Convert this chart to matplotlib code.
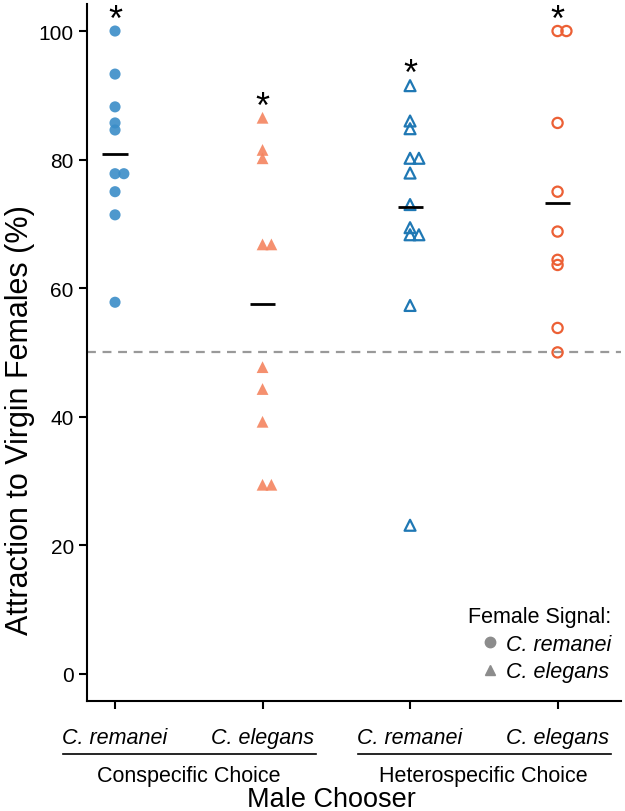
import matplotlib
matplotlib.use("Agg")
import matplotlib.pyplot as plt
import matplotlib.transforms as mtransforms
from matplotlib.lines import Line2D
from collections import Counter

plt.rcParams['font.family'] = ['Liberation Sans', 'DejaVu Sans']

# data
group_labels = ["C. remanei", "C. elegans", "C. remanei", "C. elegans"]
choice_labels = ["Conspecific Choice", "Heterospecific Choice"]
remanei_conspecific = [100, 93.3, 88.2, 85.7, 84.6, 77.8, 77.8, 75.0, 71.4, 57.8]
elegans_conspecific = [86.5, 81.5, 80.2, 66.8, 66.8, 47.7, 44.3, 39.2, 29.4, 29.4]
remanei_heterospecific = [91.5, 86.0, 84.8, 80.2, 80.2, 77.9, 73.0, 69.4, 68.3, 68.3, 57.3, 23.1]
elegans_heterospecific = [100, 100, 85.7, 75.0, 68.8, 64.4, 63.6, 53.8, 50.0]
group_means = [80.8, 57.6, 72.6, 73.3]
significant = [True, True, True, True]
chance_level = 50

groups = [remanei_conspecific, elegans_conspecific,
          remanei_heterospecific, elegans_heterospecific]

# styles
blue_fill = "#3b8dc8"
salmon_fill = "#f4845f"
blue_open = "#1f78b4"
salmon_open = "#ec6035"
styles = [
    dict(marker="o", facecolor=blue_fill, edgecolor="none", alpha=0.9, s=64),
    dict(marker="^", facecolor=salmon_fill, edgecolor="none", alpha=0.9, s=72),
    dict(marker="^", facecolor="none", edgecolor=blue_open, linewidths=1.6, s=62),
    dict(marker="o", facecolor="none", edgecolor=salmon_open, linewidths=1.6, s=54),
]

fig = plt.figure(figsize=(6.25, 8.12), dpi=100)
ax = fig.add_axes([0.1392, 0.1358, 0.8544, 0.858])

xpos = [1, 2, 3, 4]
for xi, vals, st in zip(xpos, groups, styles):
    # shift repeated values sideways so they stay visible
    seen = Counter()
    xs = []
    for v in vals:
        xs.append(xi + 0.06 * seen[v])
        seen[v] += 1
    ax.scatter(xs, vals, zorder=3, **st)

# mean bars
for xi, m in zip(xpos, group_means):
    ax.plot([xi - 0.085, xi + 0.085], [m, m], color="black", lw=2.0, zorder=4,
            solid_capstyle="butt")

# significance stars
for xi, vals, sig in zip(xpos, groups, significant):
    if sig:
        ax.text(xi, max(vals) + 0.2, "*", ha="center", va="baseline",
                fontsize=26, color="black", clip_on=False)

ax.axhline(chance_level, color="#999999", lw=1.6, ls=(0, (4, 3)), zorder=1)

ax.set_xlim(0.81, 4.43)
ax.set_ylim(-4.2, 104.2)
ax.set_yticks([0, 20, 40, 60, 80, 100])
ax.set_xticks(xpos)
ax.set_xticklabels(group_labels, fontsize=15.5, style="italic")
ax.tick_params(axis="both", direction="out", length=6, width=1.5)
ax.tick_params(axis="x", pad=13)
ax.set_yticklabels([str(t) for t in [0, 20, 40, 60, 80, 100]], fontsize=15)
for side in ["top", "right"]:
    ax.spines[side].set_visible(False)
for side in ["left", "bottom"]:
    ax.spines[side].set_linewidth(1.5)

# group underlines and labels
trans = mtransforms.blended_transform_factory(ax.transData, ax.transAxes)
for (a, b), lab in zip([(1, 2), (3, 4)], choice_labels):
    ax.add_line(Line2D([a - 0.35, b + 0.365], [-0.0765, -0.0765], transform=trans,
                       color="black", lw=1.2, clip_on=False))
    ax.text((a + b) / 2, -0.108, lab, transform=trans, ha="center", va="center",
            fontsize=15.5)

fig.text(0.531, 0.0148, "Male Chooser", ha="center", va="center", fontsize=19.5)
fig.text(0.008, 0.483, "Attraction to Virgin Females (%)", ha="left", va="center",
         rotation=90, fontsize=22)

# legend
handles = [
    Line2D([], [], marker="o", color="#8c8c8c", ls="none", markersize=7.5),
    Line2D([], [], marker="^", color="#8c8c8c", ls="none", markersize=7.5),
]
leg = ax.legend(handles, ["C. remanei", "C. elegans"], title="Female Signal:",
                loc="lower right", bbox_to_anchor=(1.005, 0.008), frameon=False,
                prop={"size": 15.5, "style": "italic"}, title_fontsize=15.5,
                handletextpad=0.1, handlelength=1.2, labelspacing=0.3,
                borderaxespad=0.2)
leg._legend_box.align = "right"

fig.savefig("out.png", dpi=100)
